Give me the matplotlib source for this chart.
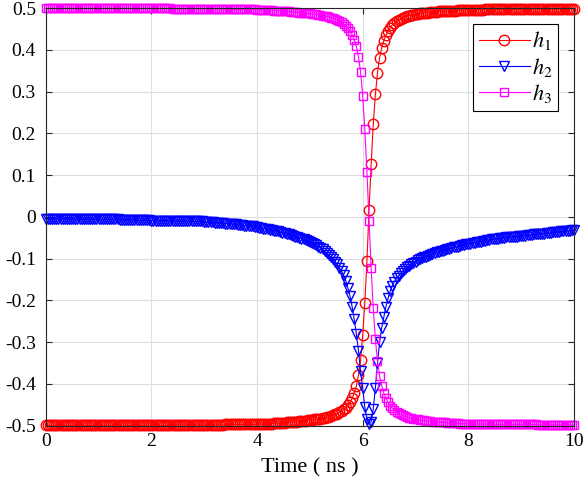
import numpy as np
import matplotlib
matplotlib.use("Agg")
import matplotlib.pyplot as plt

# time grid (ns), one sample every 0.04 ns
t = np.linspace(0, 10, 251)

# values, one row per ns
h1 = [
    -0.499, -0.499, -0.499, -0.499, -0.499, -0.499, -0.499, -0.499, -0.499, -0.499, -0.499, -0.499, -0.499, -0.499, -0.499, -0.499, -0.499, -0.499, -0.499, -0.499, -0.499, -0.499, -0.499, -0.499, -0.499,
    -0.499, -0.499, -0.499, -0.499, -0.499, -0.499, -0.499, -0.499, -0.499, -0.499, -0.499, -0.499, -0.499, -0.499, -0.499, -0.499, -0.499, -0.499, -0.499, -0.499, -0.499, -0.499, -0.499, -0.499, -0.499,
    -0.499, -0.499, -0.499, -0.499, -0.499, -0.499, -0.499, -0.499, -0.499, -0.499, -0.498, -0.498, -0.498, -0.498, -0.498, -0.498, -0.498, -0.498, -0.498, -0.498, -0.498, -0.498, -0.498, -0.498, -0.498,
    -0.498, -0.498, -0.498, -0.498, -0.498, -0.498, -0.498, -0.498, -0.498, -0.498, -0.497, -0.497, -0.497, -0.497, -0.497, -0.497, -0.497, -0.497, -0.497, -0.497, -0.497, -0.497, -0.497, -0.497, -0.497,
    -0.496, -0.496, -0.496, -0.496, -0.495, -0.495, -0.495, -0.495, -0.494, -0.494, -0.494, -0.493, -0.493, -0.493, -0.492, -0.492, -0.491, -0.491, -0.490, -0.490, -0.489, -0.489, -0.488, -0.488, -0.487,
    -0.487, -0.486, -0.485, -0.485, -0.484, -0.483, -0.482, -0.481, -0.480, -0.479, -0.477, -0.475, -0.473, -0.471, -0.468, -0.465, -0.461, -0.457, -0.451, -0.444, -0.434, -0.421, -0.405, -0.379, -0.343,
    -0.283, -0.206, -0.106, 0.016, 0.126, 0.222, 0.293, 0.345, 0.381, 0.405, 0.422, 0.435, 0.445, 0.453, 0.459, 0.464, 0.468, 0.471, 0.474, 0.476, 0.478, 0.480, 0.482, 0.483, 0.484,
    0.485, 0.486, 0.487, 0.487, 0.488, 0.489, 0.489, 0.490, 0.490, 0.491, 0.491, 0.492, 0.492, 0.492, 0.493, 0.493, 0.493, 0.494, 0.494, 0.494, 0.495, 0.495, 0.495, 0.495, 0.496,
    0.496, 0.496, 0.496, 0.496, 0.496, 0.496, 0.496, 0.496, 0.497, 0.497, 0.497, 0.497, 0.497, 0.497, 0.497, 0.497, 0.497, 0.497, 0.497, 0.497, 0.497, 0.497, 0.497, 0.497, 0.497,
    0.497, 0.497, 0.497, 0.497, 0.497, 0.497, 0.498, 0.498, 0.498, 0.498, 0.498, 0.498, 0.498, 0.498, 0.498, 0.498, 0.498, 0.498, 0.498, 0.498, 0.498, 0.498, 0.498, 0.498, 0.498,
    0.498,
]

h2 = [
    -0.004, -0.004, -0.004, -0.004, -0.004, -0.004, -0.004, -0.004, -0.004, -0.004, -0.004, -0.004, -0.005, -0.005, -0.005, -0.005, -0.005, -0.005, -0.005, -0.005, -0.005, -0.005, -0.005, -0.005, -0.005,
    -0.006, -0.006, -0.006, -0.006, -0.006, -0.006, -0.006, -0.006, -0.006, -0.006, -0.007, -0.007, -0.007, -0.007, -0.007, -0.007, -0.007, -0.007, -0.008, -0.008, -0.008, -0.008, -0.008, -0.008, -0.008,
    -0.009, -0.009, -0.009, -0.009, -0.009, -0.009, -0.009, -0.009, -0.009, -0.010, -0.010, -0.010, -0.010, -0.010, -0.010, -0.010, -0.010, -0.011, -0.011, -0.011, -0.011, -0.011, -0.011, -0.011, -0.011,
    -0.012, -0.012, -0.013, -0.013, -0.013, -0.014, -0.014, -0.015, -0.015, -0.015, -0.016, -0.016, -0.017, -0.017, -0.018, -0.018, -0.019, -0.019, -0.020, -0.021, -0.021, -0.022, -0.023, -0.023, -0.024,
    -0.025, -0.026, -0.027, -0.028, -0.029, -0.030, -0.031, -0.032, -0.033, -0.034, -0.035, -0.037, -0.038, -0.039, -0.041, -0.042, -0.044, -0.045, -0.047, -0.049, -0.050, -0.052, -0.054, -0.056, -0.058,
    -0.060, -0.062, -0.065, -0.068, -0.071, -0.074, -0.078, -0.082, -0.086, -0.091, -0.096, -0.101, -0.107, -0.114, -0.122, -0.130, -0.140, -0.153, -0.170, -0.190, -0.215, -0.245, -0.280, -0.320, -0.370,
    -0.410, -0.455, -0.485, -0.497, -0.490, -0.460, -0.410, -0.350, -0.300, -0.265, -0.240, -0.215, -0.195, -0.178, -0.165, -0.155, -0.147, -0.141, -0.135, -0.130, -0.125, -0.121, -0.117, -0.113, -0.110,
    -0.107, -0.104, -0.101, -0.099, -0.097, -0.095, -0.093, -0.091, -0.089, -0.087, -0.085, -0.084, -0.082, -0.081, -0.079, -0.078, -0.076, -0.075, -0.073, -0.072, -0.071, -0.070, -0.068, -0.067, -0.066,
    -0.065, -0.064, -0.063, -0.062, -0.061, -0.060, -0.059, -0.058, -0.057, -0.056, -0.055, -0.054, -0.053, -0.053, -0.052, -0.051, -0.051, -0.050, -0.049, -0.049, -0.048, -0.048, -0.047, -0.047, -0.046,
    -0.046, -0.045, -0.045, -0.044, -0.044, -0.043, -0.042, -0.042, -0.041, -0.041, -0.040, -0.040, -0.039, -0.039, -0.038, -0.037, -0.037, -0.036, -0.036, -0.035, -0.035, -0.034, -0.033, -0.033, -0.032,
    -0.031,
]

h3 = [
    0.499, 0.499, 0.499, 0.499, 0.499, 0.499, 0.499, 0.499, 0.499, 0.499, 0.499, 0.499, 0.499, 0.499, 0.499, 0.499, 0.499, 0.499, 0.499, 0.499, 0.499, 0.499, 0.499, 0.499, 0.499,
    0.499, 0.499, 0.499, 0.499, 0.499, 0.499, 0.499, 0.499, 0.499, 0.499, 0.499, 0.499, 0.499, 0.499, 0.499, 0.499, 0.499, 0.499, 0.499, 0.499, 0.499, 0.499, 0.499, 0.499, 0.499,
    0.499, 0.499, 0.499, 0.499, 0.499, 0.499, 0.499, 0.499, 0.499, 0.499, 0.498, 0.498, 0.498, 0.498, 0.498, 0.498, 0.498, 0.498, 0.498, 0.498, 0.498, 0.498, 0.498, 0.498, 0.498,
    0.498, 0.498, 0.498, 0.498, 0.498, 0.498, 0.498, 0.498, 0.498, 0.498, 0.497, 0.497, 0.497, 0.497, 0.497, 0.497, 0.497, 0.497, 0.497, 0.497, 0.497, 0.497, 0.497, 0.497, 0.497,
    0.496, 0.496, 0.496, 0.496, 0.495, 0.495, 0.495, 0.495, 0.494, 0.494, 0.494, 0.493, 0.493, 0.493, 0.492, 0.492, 0.491, 0.491, 0.490, 0.490, 0.489, 0.489, 0.488, 0.488, 0.487,
    0.487, 0.486, 0.485, 0.485, 0.484, 0.483, 0.482, 0.481, 0.480, 0.479, 0.477, 0.475, 0.473, 0.471, 0.469, 0.466, 0.462, 0.458, 0.452, 0.446, 0.436, 0.424, 0.408, 0.383, 0.347,
    0.289, 0.210, 0.108, -0.010, -0.123, -0.219, -0.293, -0.345, -0.381, -0.404, -0.422, -0.434, -0.444, -0.452, -0.458, -0.463, -0.467, -0.470, -0.473, -0.475, -0.477, -0.479, -0.481, -0.482, -0.483,
    -0.484, -0.485, -0.486, -0.487, -0.487, -0.488, -0.489, -0.489, -0.490, -0.490, -0.491, -0.491, -0.492, -0.492, -0.492, -0.493, -0.493, -0.493, -0.494, -0.494, -0.494, -0.495, -0.495, -0.495, -0.495,
    -0.496, -0.496, -0.496, -0.496, -0.496, -0.496, -0.496, -0.496, -0.496, -0.496, -0.497, -0.497, -0.497, -0.497, -0.497, -0.497, -0.497, -0.497, -0.497, -0.497, -0.497, -0.497, -0.497, -0.497, -0.497,
    -0.497, -0.497, -0.497, -0.497, -0.497, -0.497, -0.497, -0.497, -0.498, -0.498, -0.498, -0.498, -0.498, -0.498, -0.498, -0.498, -0.498, -0.498, -0.498, -0.498, -0.498, -0.498, -0.498, -0.498, -0.498,
    -0.498,
]

xticks = [0, 2, 4, 6, 8, 10]
yticks = [-0.5, -0.4, -0.3, -0.2, -0.1, 0, 0.1, 0.2, 0.3, 0.4, 0.5]
ytick_labels = ["-0.5", "-0.4", "-0.3", "-0.2", "-0.1", "0", "0.1", "0.2", "0.3", "0.4", "0.5"]
names = ["$h_1$", "$h_2$", "$h_3$"]

plt.rcParams["font.family"] = ["Liberation Serif", "DejaVu Serif"]
plt.rcParams["mathtext.fontset"] = "stix"
plt.rcParams["axes.unicode_minus"] = False

fig = plt.figure(figsize=(5.83, 4.86), dpi=100)
ax = fig.add_axes([0.0784, 0.124, 0.9062, 0.8595])

ax.plot(t, h1, color="#ff0000", marker="o", ms=7.5, mfc="none", mew=1.0, lw=0.8, label=names[0], clip_on=False)
ax.plot(t, h2, color="#0000ff", marker="v", ms=7.5, mfc="none", mew=1.0, lw=0.8, label=names[1], clip_on=False)
ax.plot(t, h3, color="#ff00ff", marker="s", ms=6, mfc="none", mew=1.0, lw=0.8, label=names[2], clip_on=False)

ax.set_xlim(0, 10)
ax.set_ylim(-0.5, 0.5)
ax.set_xticks(xticks)
ax.set_yticks(yticks)
ax.set_yticklabels(ytick_labels)
ax.grid(True, color="#dedede", lw=0.8)
ax.set_axisbelow(True)
for s in ax.spines.values():
    s.set_color("#262626")
    s.set_linewidth(0.8)
ax.tick_params(direction="in", length=4, width=0.8, color="#262626",
               top=True, right=True, labelsize=14, labelcolor="black")
ax.tick_params(axis="y", pad=7)
ax.tick_params(axis="x", pad=5)
ax.set_xlabel("Time ( ns )", fontsize=16, labelpad=6)

leg = ax.legend(loc="upper right", bbox_to_anchor=(0.970, 0.962), borderaxespad=0,
                fontsize=16, handlelength=2.3, handletextpad=0.1, labelspacing=0.15,
                borderpad=0.25, fancybox=False, framealpha=1, edgecolor="black")
leg.get_frame().set_linewidth(0.8)

fig.savefig("out.png", dpi=100)
